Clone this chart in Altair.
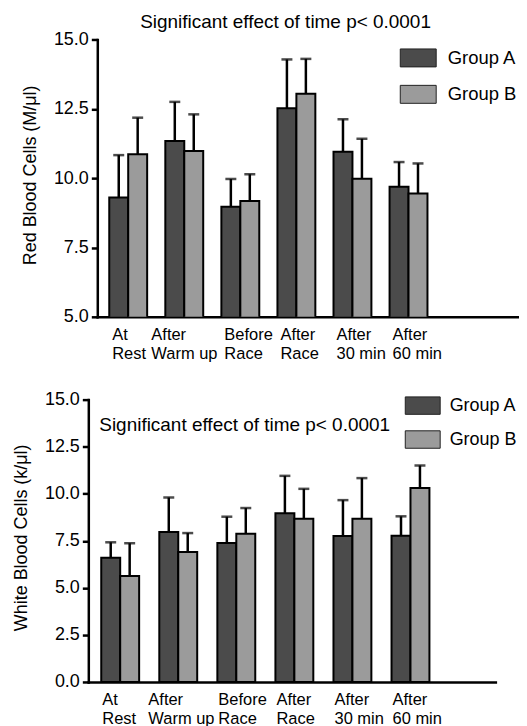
import altair as alt
import pandas as pd

# ---------------- data ----------------
categories = ["At Rest", "After Warm up", "Before Race", "After Race", "After 30 min", "After 60 min"]
groups = ["Group A", "Group B"]

rbc_a = [9.30, 11.34, 8.97, 12.52, 10.95, 9.69]
rbc_a_sd = [1.53, 1.41, 1.00, 1.76, 1.17, 0.89]
rbc_b = [10.86, 10.98, 9.18, 13.04, 9.98, 9.45]
rbc_b_sd = [1.32, 1.32, 0.96, 1.26, 1.44, 1.08]

wbc_a = [6.60, 7.97, 7.38, 8.96, 7.75, 7.77]
wbc_a_sd = [0.82, 1.83, 1.40, 1.99, 1.91, 1.03]
wbc_b = [5.63, 6.91, 7.88, 8.67, 8.67, 10.30]
wbc_b_sd = [1.74, 1.00, 1.36, 1.59, 2.16, 1.20]

rbc_ticks = [5.0, 7.5, 10.0, 12.5, 15.0]
wbc_ticks = [0.0, 2.5, 5.0, 7.5, 10.0, 12.5, 15.0]

note = "Significant effect of time p< 0.0001"
colors = ["#4b4b4b", "#9b9b9b"]
FONT = "Liberation Sans"


def frame(a, a_sd, b, b_sd):
    rows = []
    for i, c in enumerate(categories):
        rows.append({"category": c, "group": groups[0], "value": a[i], "upper": a[i] + a_sd[i]})
        rows.append({"category": c, "group": groups[1], "value": b[i], "upper": b[i] + b_sd[i]})
    return pd.DataFrame(rows)


label_expr = ("[slice(datum.label, 0, indexof(datum.label, ' ')), "
              "slice(datum.label, indexof(datum.label, ' ') + 1)]")


def panel(df, ydomain, yticks, ytitle, xscale, legend_opts, yoffset, title_y, loffs):
    x = alt.X("category:N", sort=categories, scale=alt.Scale(**xscale),
              axis=alt.Axis(title=None, ticks=False, labelAngle=0, labelAlign="left",
                            labelBaseline="top",
                            labelOffset=alt.condition("datum.value == 'After Warm up'",
                                                      alt.value(loffs[0]), alt.value(loffs[1])),
                            labelPadding=10,
                            labelFontSize=16.5, labelLineHeight=19, labelExpr=label_expr,
                            labelFont=FONT, labelColor="black", labelOverlap=False,
                            labelLimit=0, labelFlush=False, domainColor="black",
                            domainWidth=2.5, domainCap="square"))
    xo = alt.XOffset("group:N", sort=groups, scale=alt.Scale(paddingInner=0, paddingOuter=0))
    y = alt.Y("value:Q", scale=alt.Scale(domain=ydomain, zero=False, nice=False),
              axis=alt.Axis(values=yticks, format=".1f", title=ytitle, grid=False,
                            offset=yoffset, tickSize=6, tickWidth=2.5, tickColor="black",
                            domainColor="black", domainWidth=2.5, domainCap="square",
                            labelFontSize=18, labelFont=FONT, labelColor="black",
                            labelPadding=3, titleFontSize=18, titleFont=FONT,
                            titleFontWeight="normal", titleColor="black",
                            titlePadding=14, titleY=title_y))
    base = alt.Chart(df)
    bars = base.mark_bar(stroke="black", strokeWidth=2, clip=True).encode(
        x=x, xOffset=xo, y=y,
        color=alt.Color("group:N", sort=groups,
                        scale=alt.Scale(domain=groups, range=colors),
                        legend=alt.Legend(title=None, orient="none",
                                          symbolType="M-1,-0.5H1V0.5H-1Z",
                                          symbolStrokeColor="#222222",
                                          symbolStrokeWidth=1, symbolOpacity=1,
                                          labelFont=FONT,
                                          labelColor="black", padding=0, labelLimit=0,
                                          **legend_opts)))
    rules = base.mark_rule(color="black", strokeWidth=2.5).encode(
        x=x, xOffset=xo, y=alt.Y("value:Q"), y2="upper:Q")
    caps = base.mark_tick(color="black", thickness=2.5, size=11).encode(
        x=x, xOffset=xo, y=alt.Y("upper:Q"))
    return [bars, rules, caps]


def note_text(xpos, ypos):
    return alt.Chart(pd.DataFrame({"note": [note]})).mark_text(
        align="left", baseline="alphabetic", fontSize=19, font=FONT, color="black").encode(
        x=alt.value(xpos), y=alt.value(ypos), text="note:N")


rbc_df = frame(rbc_a, rbc_a_sd, rbc_b, rbc_b_sd)
wbc_df = frame(wbc_a, wbc_a_sd, wbc_b, wbc_b_sd)

top_layers = panel(rbc_df, [5, 15], rbc_ticks, "Red Blood Cells (M/μl)",
                   dict(paddingInner=0.324, paddingOuter=0.988, align=0.108, rangeMin=9),
                   dict(legendX=312.2, legendY=0, symbolSize=1296, labelOffset=11,
                        rowPadding=6.5, labelFontSize=18.5),
                   -9, 135.7, (-33, -16))
top = alt.layer(*top_layers, note_text(52, -11.6)).properties(width=439, height=278)

bottom_layers = panel(wbc_df, [0, 15], wbc_ticks, "White Blood Cells (k/μl)",
                      dict(paddingInner=0.381, paddingOuter=0.696, align=0.16),
                      dict(legendX=317.2, legendY=-12, symbolSize=1225, labelOffset=9,
                           rowPadding=5, labelFontSize=18),
                      0, 138, (-29, -17))
bottom = alt.layer(*bottom_layers, note_text(11, 31)).properties(width=408, height=283)

chart = alt.vconcat(top, bottom, spacing=83, bounds="flush").properties(
    padding={"left": 3.5, "top": 3.7, "right": -7.3, "bottom": 0},
    background="white",
).configure_view(stroke=None).resolve_scale(color="independent")

chart.save("out.html", embed_options={"renderer": "svg", "actions": False})
